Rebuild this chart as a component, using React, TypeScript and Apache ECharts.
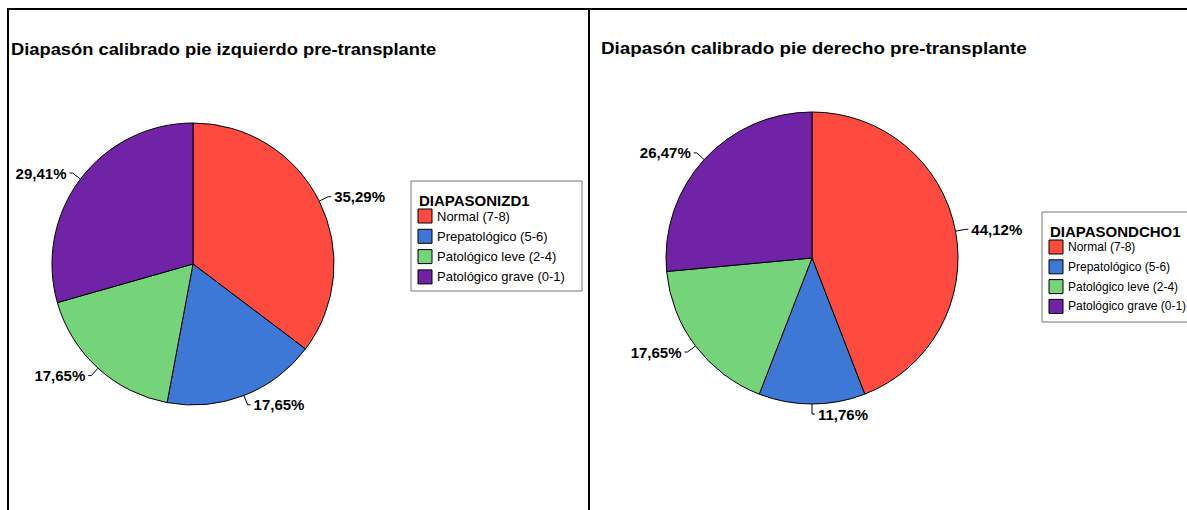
import React, { useEffect, useRef } from "react";
import * as echarts from "echarts";

const categories = ["Normal (7-8)", "Prepatológico (5-6)", "Patológico leve (2-4)", "Patológico grave (0-1)"];
const sliceColors = ["#FF4B3F", "#3E78D7", "#75D37A", "#7123A7"];
const leftCounts = [12, 6, 6, 10];
const rightCounts = [15, 4, 6, 9];
const leftTitle = "Diapasón calibrado pie izquierdo pre-transplante";
const rightTitle = "Diapasón calibrado pie derecho pre-transplante";
const leftLegendTitle = "DIAPASONIZD1";
const rightLegendTitle = "DIAPASONDCHO1";

const FONT = "'Liberation Sans', Arial, sans-serif";

function legendGroup(x: number, y: number, w: number, title: string, fs: number, step: number) {
  const children: any[] = [
    { type: "rect", shape: { x: 0, y: 0, width: w, height: 110 }, style: { fill: "#fff", stroke: "#777", lineWidth: 1 } },
    { type: "text", x: 8, y: 19, style: { text: title, font: `bold 15px ${FONT}`, fill: "#000", verticalAlign: "middle" } },
  ];
  categories.forEach((c, i) => {
    const top = 28 + i * step;
    children.push({ type: "rect", shape: { x: 7, y: top, width: 14, height: 14 }, style: { fill: sliceColors[i], stroke: "#000", lineWidth: 1 } });
    children.push({ type: "text", x: 26, y: top + 7, style: { text: c, font: `${fs}px ${FONT}`, fill: "#000", verticalAlign: "middle" } });
  });
  return { type: "group", x, y, children };
}

function pieSeries(counts: number[], center: [number, number], radius: number) {
  return {
    type: "pie",
    center,
    radius,
    startAngle: 90,
    clockwise: true,
    avoidLabelOverlap: false,
    data: counts.map((v, i) => ({ name: categories[i], value: v, itemStyle: { color: sliceColors[i] } })),
    itemStyle: { borderColor: "#000", borderWidth: 1 },
    label: {
      show: true,
      position: "outside",
      formatter: (p: any) => p.percent.toFixed(2).replace(".", ",") + "%",
      fontFamily: FONT,
      fontWeight: "bold",
      fontSize: 15,
      color: "#000",
      distanceToLabelLine: 3,
    },
    labelLine: { show: true, length: 10, length2: 3, lineStyle: { color: "#000", width: 1 } },
    emphasis: { disabled: true },
  };
}

function titleText(text: string, x: number, sx: number) {
  return {
    type: "text",
    x,
    y: 49,
    scaleX: sx,
    style: { text, font: `bold 16px ${FONT}`, fill: "#000", verticalAlign: "middle" },
  };
}

export default function App() {
  const ref = useRef<HTMLDivElement>(null);
  useEffect(() => {
    document.body.style.margin = "0";
    const chart = echarts.init(ref.current!, null, { renderer: "svg" });
    chart.setOption({
      animation: false,
      backgroundColor: "#fff",
      series: [pieSeries(leftCounts, [193, 264], 141), pieSeries(rightCounts, [812, 258], 146)],
      graphic: [
        { type: "line", shape: { x1: 7, y1: 9, x2: 1187, y2: 9 }, style: { stroke: "#000", lineWidth: 2 } },
        { type: "line", shape: { x1: 8, y1: 9, x2: 8, y2: 510 }, style: { stroke: "#000", lineWidth: 2 } },
        { type: "line", shape: { x1: 589, y1: 9, x2: 589, y2: 510 }, style: { stroke: "#000", lineWidth: 2 } },
        titleText(leftTitle, 11, 1.145),
        titleText(rightTitle, 601, 1.175),
        legendGroup(411, 181, 171, leftLegendTitle, 13, 20.3),
        legendGroup(1042, 212, 170, rightLegendTitle, 12, 19.8),
      ],
    });
    return () => chart.dispose();
  }, []);
  return <div ref={ref} style={{ width: 1187, height: 510 }} />;
}
